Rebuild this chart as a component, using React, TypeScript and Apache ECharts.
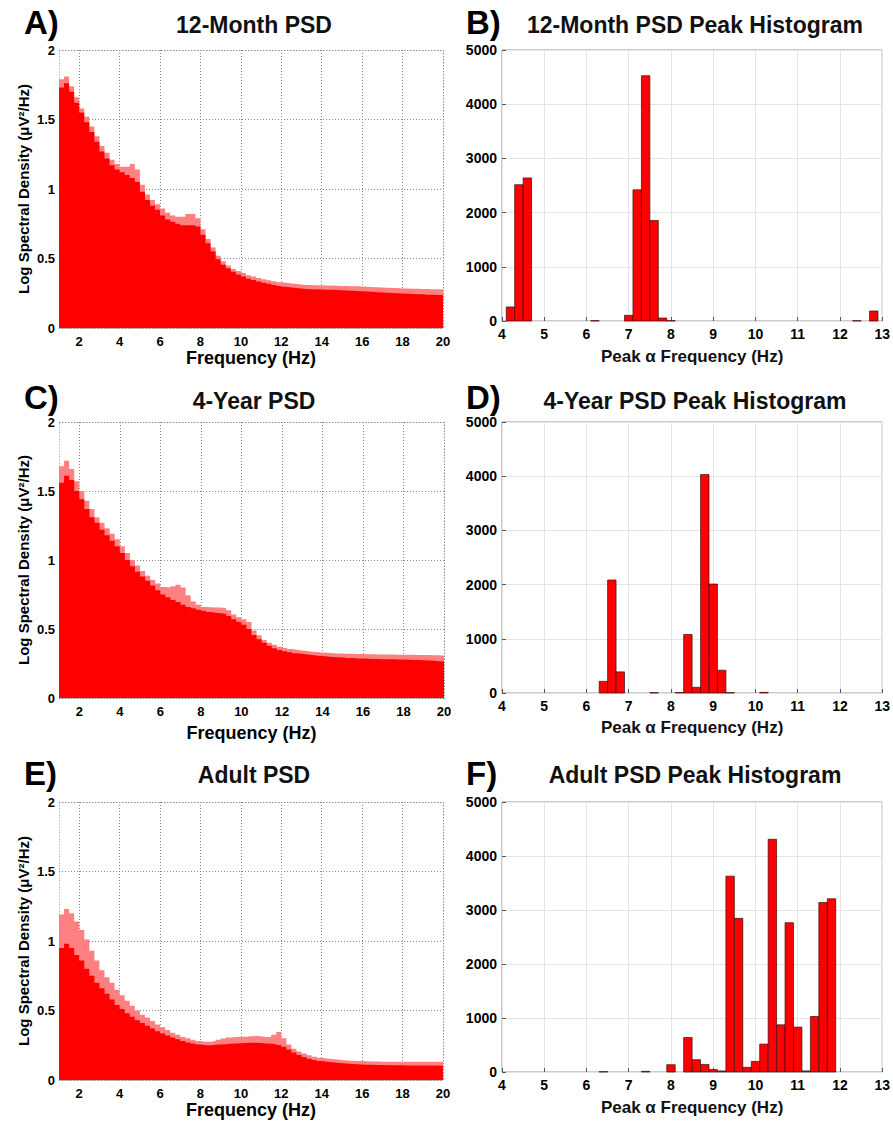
import React, { useEffect, useRef } from "react";
import * as echarts from "echarts";

// ---------- Data ----------
// PSD frequency grid (Hz), bin starts every 0.25 Hz from 1 to 20
const FREQ: number[] = Array.from({ length: 77 }, (_, i) => 1 + i * 0.25);
const PSD_TICKS = [2, 4, 6, 8, 10, 12, 14, 16, 18, 20];

const A_upper = [1.79, 1.81, 1.74, 1.66, 1.58, 1.52, 1.45, 1.38, 1.31, 1.26, 1.21, 1.18, 1.16, 1.16, 1.18, 1.14, 1.03, 0.96, 0.92, 0.89, 0.86, 0.83, 0.81, 0.80, 0.80, 0.82, 0.82, 0.79, 0.71, 0.64, 0.58, 0.52, 0.48, 0.45, 0.425, 0.41, 0.395, 0.38, 0.37, 0.36, 0.35, 0.343, 0.336, 0.33, 0.325, 0.32, 0.316, 0.313, 0.31, 0.309, 0.308, 0.307, 0.306, 0.305, 0.304, 0.303, 0.302, 0.301, 0.3, 0.299, 0.297, 0.295, 0.293, 0.291, 0.289, 0.288, 0.287, 0.285, 0.284, 0.283, 0.282, 0.281, 0.28, 0.279, 0.278, 0.277, 0.277];
const A_mean = [1.73, 1.76, 1.7, 1.62, 1.55, 1.48, 1.41, 1.34, 1.27, 1.22, 1.17, 1.14, 1.12, 1.1, 1.08, 1.05, 0.98, 0.92, 0.88, 0.85, 0.81, 0.78, 0.765, 0.75, 0.74, 0.74, 0.74, 0.73, 0.67, 0.61, 0.55, 0.495, 0.455, 0.43, 0.405, 0.385, 0.37, 0.355, 0.345, 0.335, 0.325, 0.318, 0.31, 0.303, 0.296, 0.291, 0.287, 0.284, 0.281, 0.279, 0.278, 0.277, 0.276, 0.275, 0.274, 0.272, 0.27, 0.268, 0.266, 0.264, 0.262, 0.26, 0.258, 0.256, 0.254, 0.252, 0.25, 0.248, 0.246, 0.244, 0.243, 0.242, 0.24, 0.239, 0.238, 0.237, 0.236];

const C_upper = [1.68, 1.72, 1.66, 1.57, 1.5, 1.43, 1.37, 1.31, 1.27, 1.23, 1.19, 1.15, 1.1, 1.05, 1.0, 0.96, 0.92, 0.885, 0.855, 0.83, 0.805, 0.8, 0.81, 0.82, 0.8, 0.745, 0.7, 0.675, 0.66, 0.657, 0.655, 0.655, 0.65, 0.635, 0.605, 0.585, 0.57, 0.55, 0.49, 0.455, 0.42, 0.4, 0.385, 0.372, 0.362, 0.355, 0.35, 0.345, 0.34, 0.336, 0.333, 0.33, 0.327, 0.325, 0.323, 0.322, 0.321, 0.32, 0.319, 0.318, 0.317, 0.317, 0.316, 0.316, 0.315, 0.315, 0.314, 0.314, 0.313, 0.313, 0.312, 0.312, 0.311, 0.31, 0.309, 0.308, 0.307];
const C_mean = [1.56, 1.61, 1.58, 1.5, 1.44, 1.37, 1.31, 1.27, 1.22, 1.18, 1.14, 1.1, 1.05, 1.0, 0.955, 0.915, 0.88, 0.85, 0.815, 0.78, 0.75, 0.73, 0.71, 0.695, 0.675, 0.66, 0.65, 0.64, 0.632, 0.623, 0.618, 0.614, 0.609, 0.595, 0.57, 0.55, 0.53, 0.5, 0.456, 0.425, 0.4, 0.378, 0.36, 0.348, 0.338, 0.331, 0.325, 0.32, 0.315, 0.311, 0.307, 0.304, 0.3, 0.298, 0.295, 0.293, 0.29, 0.289, 0.287, 0.286, 0.284, 0.283, 0.282, 0.281, 0.28, 0.28, 0.279, 0.279, 0.277, 0.276, 0.275, 0.274, 0.272, 0.27, 0.267, 0.264, 0.262];

const E_upper = [1.19, 1.23, 1.2, 1.14, 1.08, 1.01, 0.93, 0.86, 0.79, 0.74, 0.7, 0.65, 0.61, 0.57, 0.535, 0.5, 0.47, 0.45, 0.425, 0.4, 0.38, 0.36, 0.34, 0.325, 0.31, 0.3, 0.29, 0.28, 0.275, 0.275, 0.28, 0.29, 0.298, 0.305, 0.31, 0.312, 0.312, 0.315, 0.316, 0.315, 0.31, 0.31, 0.325, 0.345, 0.3, 0.255, 0.225, 0.205, 0.19, 0.178, 0.168, 0.16, 0.155, 0.151, 0.147, 0.144, 0.141, 0.139, 0.137, 0.136, 0.134, 0.133, 0.133, 0.132, 0.132, 0.132, 0.131, 0.131, 0.131, 0.131, 0.131, 0.131, 0.131, 0.131, 0.131, 0.131, 0.131];
const E_mean = [0.95, 0.98, 0.95, 0.9, 0.86, 0.8, 0.75, 0.7, 0.66, 0.62, 0.58, 0.54, 0.51, 0.48, 0.455, 0.43, 0.41, 0.39, 0.37, 0.35, 0.335, 0.32, 0.305, 0.293, 0.28, 0.27, 0.262, 0.255, 0.25, 0.25, 0.253, 0.256, 0.258, 0.26, 0.263, 0.265, 0.267, 0.268, 0.268, 0.266, 0.263, 0.26, 0.258, 0.252, 0.24, 0.22, 0.198, 0.18, 0.165, 0.153, 0.144, 0.137, 0.132, 0.128, 0.124, 0.121, 0.118, 0.116, 0.113, 0.111, 0.11, 0.109, 0.108, 0.108, 0.107, 0.107, 0.106, 0.106, 0.105, 0.105, 0.105, 0.104, 0.104, 0.104, 0.104, 0.103, 0.103];

// Histograms: bin start (Hz) and counts, bins 0.2 Hz wide
const BIN_W = 0.2;
const B_start = [4.1, 4.3, 4.5, 6.1, 6.9, 7.1, 7.3, 7.5, 7.7, 7.9, 12.3, 12.7];
const B_count = [260, 2515, 2640, 6, 105, 2420, 4525, 1855, 55, 6, 5, 185];
const D_start = [6.3, 6.5, 6.7, 7.5, 8.1, 8.3, 8.5, 8.7, 8.9, 9.1, 9.3, 10.1];
const D_count = [215, 2085, 390, 6, 8, 1080, 105, 4030, 2010, 420, 6, 12];
const F_start = [6.3, 7.3, 7.9, 8.3, 8.5, 8.7, 8.9, 9.1, 9.3, 9.5, 9.7, 9.9, 10.1, 10.3, 10.5, 10.7, 10.9, 11.1, 11.3, 11.5, 11.7];
const F_count = [6, 12, 135, 640, 228, 140, 45, 20, 3627, 2845, 86, 197, 517, 4310, 874, 2765, 831, 20, 1028, 3140, 3208];

const PSD_TITLES = ["12-Month PSD", "4-Year PSD", "Adult PSD"];
const HIST_TITLES = ["12-Month PSD Peak Histogram", "4-Year PSD Peak Histogram", "Adult PSD Peak Histogram"];
const LETTERS = ["A)", "B)", "C)", "D)", "E)", "F)"];

// ---------- Layout ----------
const FONT = "'Liberation Sans', Arial, Helvetica, sans-serif";
const GRIDS = [
  { left: 59, top: 50, width: 384, height: 278 }, // A
  { left: 502, top: 50, width: 382, height: 271 }, // B
  { left: 59, top: 422, width: 385, height: 276 }, // C
  { left: 502, top: 422, width: 382, height: 271 }, // D
  { left: 59, top: 802, width: 384, height: 278 }, // E
  { left: 502, top: 802, width: 382, height: 270 }, // F
];
const TITLE_Y = [25, 401, 775];
const LETTER_Y = [22, 397, 773];
const PSD_NAME_GAP = [21, 26, 19];
const HIST_NAME_GAP = [27, 26, 27];

const LIGHT = "#ff8080";
const RED = "#ff0000";

export default function App() {
  const ref = useRef<HTMLDivElement>(null);
  useEffect(() => {
    document.body.style.margin = "0";
    const chart = echarts.init(ref.current!, null, { renderer: "svg" });

    const psdSets = [
      [A_upper, A_mean],
      [C_upper, C_mean],
      [E_upper, E_mean],
    ];
    const histSets = [
      [B_start, B_count],
      [D_start, D_count],
      [F_start, F_count],
    ];

    const grid: any[] = [];
    const xAxis: any[] = [];
    const yAxis: any[] = [];
    const series: any[] = [];
    const graphic: any[] = [];

    const tickLabel = (size: number, margin: number) => ({
      color: "#000",
      fontWeight: "bold",
      fontSize: size,
      fontFamily: FONT,
      margin,
    });

    for (let r = 0; r < 3; r++) {
      // ---- PSD panel ----
      const pi = r * 2;
      const g = GRIDS[pi];
      grid.push({ ...g, show: false, containLabel: false });
      xAxis.push({
        gridIndex: pi,
        type: "value",
        min: 1,
        max: 20,
        name: "Frequency (Hz)",
        nameLocation: "middle",
        nameGap: PSD_NAME_GAP[r],
        nameTextStyle: { fontWeight: "bold", fontSize: 18, fontFamily: FONT, color: "#000" },
        axisLine: { show: false },
        axisTick: { show: false, customValues: PSD_TICKS },
        axisLabel: { ...tickLabel(13, 7), customValues: PSD_TICKS },
        splitLine: { show: true, lineStyle: { color: "#8a8a8a", width: 1, type: [1, 2] } },
      });
      yAxis.push({
        gridIndex: pi,
        type: "value",
        min: 0,
        max: 2,
        interval: 0.5,
        name: "Log Spectral Density (μV²/Hz)",
        nameLocation: "middle",
        nameGap: 28,
        nameTextStyle: { fontWeight: "bold", fontSize: 15, fontFamily: FONT, color: "#000" },
        axisLine: { show: false },
        axisTick: { show: false },
        axisLabel: tickLabel(13, 4),
        splitLine: { show: true, lineStyle: { color: "#8a8a8a", width: 1, type: [1, 2] } },
      });
      const [up, mn] = psdSets[r];
      series.push({
        type: "line",
        xAxisIndex: pi,
        yAxisIndex: pi,
        step: "end",
        symbol: "none",
        silent: true,
        z: 3,
        lineStyle: { width: 0, color: LIGHT },
        areaStyle: { color: LIGHT, opacity: 1 },
        data: FREQ.map((f, k) => [f, up[k]]),
      });
      series.push({
        type: "line",
        xAxisIndex: pi,
        yAxisIndex: pi,
        step: "end",
        symbol: "none",
        silent: true,
        z: 4,
        lineStyle: { width: 0, color: RED },
        areaStyle: { color: RED, opacity: 1 },
        data: FREQ.map((f, k) => [f, mn[k]]),
      });
      graphic.push({
        type: "rect",
        z: 1,
        silent: true,
        shape: { x: g.left + 0.5, y: g.top + 0.5, width: g.width, height: g.height },
        style: { fill: "none", stroke: "#8a8a8a", lineWidth: 1, lineDash: [1, 2] },
      });

      // ---- Histogram panel ----
      const hi = r * 2 + 1;
      const h = GRIDS[hi];
      grid.push({ ...h, show: true, borderColor: "#9a9a9a", borderWidth: 1, backgroundColor: "transparent", containLabel: false });
      xAxis.push({
        gridIndex: hi,
        type: "value",
        min: 4,
        max: 13,
        interval: 1,
        name: "Peak α Frequency (Hz)",
        nameLocation: "middle",
        nameGap: HIST_NAME_GAP[r],
        nameTextStyle: { fontWeight: "bold", fontSize: 17, fontFamily: FONT, color: "#111" },
        axisLine: { show: false },
        axisTick: { show: true, inside: true, length: 4, lineStyle: { color: "#555" } },
        axisLabel: tickLabel(14, 6),
        splitLine: { show: true, lineStyle: { color: "#e4e4e4", width: 1 } },
      });
      yAxis.push({
        gridIndex: hi,
        type: "value",
        min: 0,
        max: 5000,
        interval: 1000,
        axisLine: { show: false },
        axisTick: { show: true, inside: true, length: 4, lineStyle: { color: "#555" } },
        axisLabel: { ...tickLabel(14, 5), formatter: (v: number) => String(v) },
        splitLine: { show: true, lineStyle: { color: "#e4e4e4", width: 1 } },
      });
      const [st, ct] = histSets[r];
      series.push({
        type: "custom",
        xAxisIndex: hi,
        yAxisIndex: hi,
        silent: true,
        z: 3,
        encode: { x: [0, 1], y: 2 },
        data: st.map((s, k) => [s, s + BIN_W, ct[k]]),
        renderItem: (_params: any, api: any) => {
          const p0 = api.coord([api.value(0), api.value(2)]);
          const p1 = api.coord([api.value(1), 0]);
          return {
            type: "rect",
            shape: { x: p0[0], y: p0[1], width: p1[0] - p0[0], height: p1[1] - p0[1] },
            style: { fill: RED, stroke: "#3a1010", lineWidth: 0.7 },
          };
        },
      });

      // ---- Titles & letters ----
      graphic.push({
        type: "text",
        x: 254,
        y: TITLE_Y[r],
        z: 10,
        style: { text: PSD_TITLES[r], fill: "#111", fontSize: 23, fontWeight: "bold", fontFamily: FONT, align: "center", verticalAlign: "middle" },
      });
      graphic.push({
        type: "text",
        x: 695,
        y: TITLE_Y[r],
        z: 10,
        style: { text: HIST_TITLES[r], fill: "#111", fontSize: 23, fontWeight: "bold", fontFamily: FONT, align: "center", verticalAlign: "middle" },
      });
      graphic.push({
        type: "text",
        x: 24,
        y: LETTER_Y[r],
        z: 10,
        style: { text: LETTERS[r * 2], fill: "#000", fontSize: 33, fontWeight: "bold", fontFamily: FONT, align: "left", verticalAlign: "middle" },
      });
      graphic.push({
        type: "text",
        x: 466,
        y: LETTER_Y[r],
        z: 10,
        style: { text: LETTERS[r * 2 + 1], fill: "#000", fontSize: 33, fontWeight: "bold", fontFamily: FONT, align: "left", verticalAlign: "middle" },
      });
    }

    chart.setOption({
      animation: false,
      backgroundColor: "#fff",
      grid,
      xAxis,
      yAxis,
      series,
      graphic,
    });
    return () => chart.dispose();
  }, []);
  return <div ref={ref} style={{ width: 893, height: 1121 }} />;
}
